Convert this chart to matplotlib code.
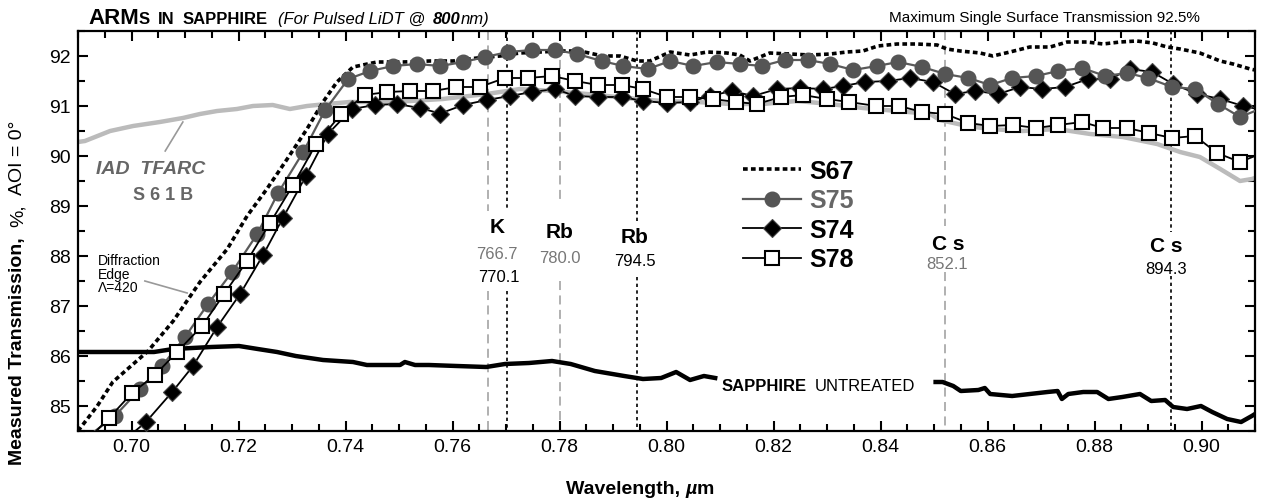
import numpy as np
import matplotlib
matplotlib.use('Agg')
import matplotlib.pyplot as plt
from matplotlib import font_manager

# ---- data (wavelength in um, transmission in %) ----
s67_wl = [0.6900, 0.6936, 0.6965, 0.7031, 0.7078, 0.7128, 0.7179, 0.7216, 0.7253, 0.7291,
          0.7328, 0.7358, 0.7384, 0.7414, 0.7459, 0.7507, 0.7558, 0.7601, 0.7646, 0.7689,
          0.7726, 0.7764, 0.7801, 0.7838, 0.7881, 0.7913, 0.7945, 0.7969, 0.8007, 0.8044,
          0.8076, 0.8113, 0.8137, 0.8156, 0.8193, 0.8231, 0.8268, 0.8306, 0.8337, 0.8367,
          0.8395, 0.8431, 0.8468, 0.8506, 0.8524, 0.8549, 0.8586, 0.8610, 0.8642, 0.8679,
          0.8717, 0.8749, 0.8786, 0.8816, 0.8848, 0.8879, 0.8909, 0.8936, 0.8960, 0.8997,
          0.9035, 0.9059, 0.9091, 0.9100]
s67_t = [84.50, 85.00, 85.48, 86.10, 86.70, 87.48, 88.14, 88.80, 89.34, 89.94,
         90.54, 91.08, 91.48, 91.78, 91.88, 91.88, 91.90, 91.90, 91.96, 92.00,
         92.06, 92.08, 92.10, 92.10, 92.00, 92.00, 91.90, 91.90, 92.08, 92.02,
         92.08, 92.06, 92.02, 91.90, 92.06, 92.04, 92.02, 92.04, 92.08, 92.10,
         92.20, 92.24, 92.24, 92.22, 92.14, 92.10, 92.06, 92.00, 92.08, 92.18,
         92.18, 92.28, 92.28, 92.24, 92.28, 92.30, 92.26, 92.18, 92.14, 92.06,
         91.90, 91.84, 91.74, 91.72]

s75_wl = [0.6932, 0.6969, 0.7016, 0.7057, 0.7100, 0.7143, 0.7188, 0.7235, 0.7274, 0.7321,
          0.7362, 0.7405, 0.7446, 0.7489, 0.7534, 0.7577, 0.7620, 0.7661, 0.7704, 0.7749,
          0.7792, 0.7833, 0.7879, 0.7919, 0.7965, 0.8007, 0.8050, 0.8094, 0.8137, 0.8179,
          0.8221, 0.8264, 0.8306, 0.8349, 0.8393, 0.8433, 0.8478, 0.8521, 0.8564, 0.8605,
          0.8646, 0.8691, 0.8732, 0.8777, 0.8820, 0.8861, 0.8900, 0.8945, 0.8988, 0.9031,
          0.9072, 0.9100]
s75_t = [84.50, 84.80, 85.34, 85.80, 86.38, 87.04, 87.68, 88.44, 89.26, 90.08,
         90.92, 91.54, 91.70, 91.80, 91.84, 91.80, 91.88, 91.98, 92.08, 92.12,
         92.12, 92.04, 91.90, 91.80, 91.74, 91.90, 91.80, 91.88, 91.84, 91.80,
         91.92, 91.92, 91.84, 91.72, 91.80, 91.88, 91.78, 91.64, 91.56, 91.42,
         91.56, 91.60, 91.70, 91.76, 91.60, 91.66, 91.56, 91.38, 91.34, 91.04,
         90.78, 90.90]

s74_wl = [0.7007, 0.7027, 0.7076, 0.7115, 0.7160, 0.7203, 0.7246, 0.7283, 0.7326, 0.7367,
          0.7412, 0.7455, 0.7496, 0.7539, 0.7577, 0.7620, 0.7664, 0.7707, 0.7749, 0.7792,
          0.7829, 0.7872, 0.7917, 0.7956, 0.8001, 0.8044, 0.8081, 0.8122, 0.8162, 0.8207,
          0.8250, 0.8293, 0.8330, 0.8371, 0.8414, 0.8455, 0.8498, 0.8539, 0.8577, 0.8620,
          0.8661, 0.8702, 0.8745, 0.8788, 0.8829, 0.8866, 0.8908, 0.8947, 0.8992, 0.9035,
          0.9078, 0.9100]
s74_t = [84.50, 84.68, 85.28, 85.80, 86.58, 87.24, 88.02, 88.76, 89.60, 90.44,
         90.94, 91.02, 91.04, 90.96, 90.85, 91.02, 91.12, 91.20, 91.28, 91.34,
         91.20, 91.18, 91.18, 91.10, 91.06, 91.08, 91.20, 91.30, 91.20, 91.34,
         91.36, 91.34, 91.40, 91.48, 91.50, 91.56, 91.48, 91.24, 91.30, 91.24,
         91.38, 91.34, 91.38, 91.54, 91.54, 91.74, 91.68, 91.44, 91.24, 91.14,
         91.00, 90.95]

s78_wl = [0.6934, 0.6958, 0.7001, 0.7044, 0.7085, 0.7132, 0.7173, 0.7216, 0.7259, 0.7302,
          0.7345, 0.7392, 0.7436, 0.7478, 0.7521, 0.7564, 0.7607, 0.7651, 0.7698, 0.7741,
          0.7786, 0.7829, 0.7872, 0.7917, 0.7956, 0.8001, 0.8044, 0.8087, 0.8130, 0.8169,
          0.8214, 0.8255, 0.8300, 0.8341, 0.8392, 0.8435, 0.8478, 0.8521, 0.8564, 0.8605,
          0.8648, 0.8691, 0.8732, 0.8777, 0.8816, 0.8861, 0.8902, 0.8945, 0.8988, 0.9029,
          0.9072, 0.9100]
s78_t = [84.50, 84.76, 85.26, 85.62, 86.08, 86.60, 87.24, 87.90, 88.66, 89.42,
         90.24, 90.84, 91.22, 91.28, 91.30, 91.30, 91.38, 91.38, 91.56, 91.56,
         91.60, 91.50, 91.42, 91.42, 91.34, 91.18, 91.18, 91.14, 91.08, 91.04,
         91.18, 91.22, 91.14, 91.08, 91.00, 91.00, 90.88, 90.84, 90.66, 90.60,
         90.62, 90.56, 90.62, 90.68, 90.56, 90.56, 90.46, 90.36, 90.40, 90.06,
         89.88, 90.00]

s61b_wl = [0.6900, 0.6913, 0.6960, 0.7003, 0.7053, 0.7096, 0.7128, 0.7160, 0.7197, 0.7227,
           0.7264, 0.7296, 0.7328, 0.7365, 0.7408, 0.7459, 0.7521, 0.7582, 0.7614, 0.7664,
           0.7726, 0.7788, 0.7851, 0.7945, 0.7993, 0.8057, 0.8119, 0.8180, 0.8244, 0.8306,
           0.8367, 0.8431, 0.8493, 0.8511, 0.8562, 0.8605, 0.8666, 0.8730, 0.8792, 0.8853,
           0.8917, 0.8960, 0.8997, 0.9035, 0.9072, 0.9094, 0.9100]
s61b_t = [90.28, 90.30, 90.50, 90.60, 90.68, 90.76, 90.84, 90.90, 90.94, 91.00,
          91.02, 90.94, 91.00, 91.04, 91.08, 91.08, 91.10, 91.14, 91.18, 91.24,
          91.34, 91.30, 91.24, 91.14, 91.10, 91.08, 91.04, 91.04, 91.10, 91.04,
          90.96, 90.90, 90.84, 90.72, 90.60, 90.54, 90.50, 90.54, 90.44, 90.38,
          90.24, 90.08, 89.98, 89.74, 89.50, 89.54, 89.56]

# untreated sapphire, NaN marks the break behind the label
sap_wl = [0.6900, 0.6988, 0.7042, 0.7078, 0.7149, 0.7201, 0.7236, 0.7272, 0.7307, 0.7358,
          0.7414, 0.7440, 0.7502, 0.7511, 0.7530, 0.7556, 0.7608, 0.7663, 0.7698, 0.7743,
          0.7786, 0.7821, 0.7866, 0.7921, 0.7956, 0.7990, 0.8018, 0.8044, 0.8070, 0.8091,
          0.8300,
          0.8503, 0.8516, 0.8536, 0.8550, 0.8583, 0.8595, 0.8605, 0.8646, 0.8679, 0.8712,
          0.8731, 0.8739, 0.8751, 0.8779, 0.8805, 0.8826, 0.8852, 0.8885, 0.8906, 0.8932,
          0.8947, 0.8973, 0.8999, 0.9020, 0.9048, 0.9074, 0.9094, 0.9100]
sap_t = [86.08, 86.08, 86.08, 86.14, 86.18, 86.20, 86.14, 86.08, 86.00, 85.92,
         85.88, 85.82, 85.82, 85.88, 85.82, 85.82, 85.80, 85.78, 85.84, 85.86,
         85.90, 85.84, 85.70, 85.60, 85.54, 85.56, 85.68, 85.52, 85.60, 85.56,
         np.nan,
         85.48, 85.48, 85.40, 85.30, 85.32, 85.36, 85.24, 85.20, 85.24, 85.28,
         85.30, 85.14, 85.24, 85.28, 85.28, 85.14, 85.18, 85.24, 85.10, 85.12,
         84.98, 84.94, 85.00, 84.88, 84.74, 84.68, 84.80, 84.84]

# atomic lines, nm
line_nm = [766.7, 770.1, 780.0, 794.5, 852.1, 894.3]
line_gray = [True, False, True, False, True, False]

# ---- fonts ----
names = {f.name for f in font_manager.fontManager.ttflist}
narrow = 'Liberation Sans Narrow' if 'Liberation Sans Narrow' in names else 'Liberation Sans'
plt.rcParams['font.family'] = [narrow, 'DejaVu Sans']

fig = plt.figure(figsize=(12.61, 5.02), dpi=100)
ax = fig.add_axes([78 / 1261, 70 / 502, 1177 / 1261, 400 / 502])
ax.set_xlim(0.69, 0.91)
ax.set_ylim(84.5, 92.5)

# vertical lines with a gap for the labels (gap in % units)
gaps = [(87.3, 88.9), (87.3, 88.9), (87.5, 89.04), (87.58, 88.64), (87.68, 88.6), (87.6, 88.48)]
for nm, g, (lo, hi) in zip(line_nm, line_gray, gaps):
    x = nm / 1000.0
    if g:
        kw = dict(color='#aaaaaa', lw=1.3, dashes=(5, 3))
    else:
        kw = dict(color='black', lw=1.2, dashes=(2, 2))
    ax.plot([x, x], [92.5, hi], zorder=1, **kw)
    ax.plot([x, x], [lo, 84.5], zorder=1, **kw)

ax.plot(s61b_wl, s61b_t, color='#bbbbbb', lw=3.2, zorder=2)
ax.plot(sap_wl, sap_t, color='black', lw=3.2, zorder=2)
l67, = ax.plot(s67_wl, s67_t, color='black', lw=2.6, dashes=(1.3, 0.9), zorder=3, label='S67')
l74, = ax.plot(s74_wl, s74_t, color='black', lw=1.3, marker='D', ms=9, mfc='black',
               mec='#444444', mew=0.8, markevery=slice(1, -1), zorder=4, label='S74')
l75, = ax.plot(s75_wl, s75_t, color='#5a5a5a', lw=1.6, marker='o', ms=10.5, mfc='#555555',
               mec='#555555', markevery=slice(1, -1), zorder=5, label='S75')
l78, = ax.plot(s78_wl, s78_t, color='black', lw=1.3, marker='s', ms=10, mfc='white',
               mec='black', mew=1.5, markevery=slice(1, -1), zorder=6, label='S78')

leg = ax.legend([l67, l75, l74, l78], ['S67', 'S75', 'S74', 'S78'], loc='upper left',
                bbox_to_anchor=(0.565, 0.68), frameon=False, borderpad=0, borderaxespad=0,
                handlelength=2.3, handletextpad=0.35, labelspacing=0.22,
                prop=dict(family=narrow, weight='bold', size=18))
for t, c in zip(leg.get_texts(), ['black', '#666666', 'black', 'black']):
    t.set_color(c)

# ticks
ax.set_xticks(np.arange(0.70, 0.9001, 0.02))
ax.set_xticks(np.arange(0.69, 0.9101, 0.005), minor=True)
ax.set_yticks(np.arange(85, 92.01, 1))
ax.set_yticks(np.arange(84.5, 92.51, 0.5), minor=True)
ax.xaxis.set_major_formatter(matplotlib.ticker.FormatStrFormatter('%.2f'))
ax.yaxis.set_major_formatter(matplotlib.ticker.FormatStrFormatter('%d'))
ax.tick_params(which='both', direction='in', top=True, right=True, width=1.5, labelsize=14)
ax.tick_params(which='major', length=7, pad=5)
ax.tick_params(which='minor', length=5)
for s in ax.spines.values():
    s.set_linewidth(1.6)

# line labels
lab = dict(ha='center', va='center')
ax.text(0.7683, 88.58, 'K', fontsize=15, fontweight='bold', **lab)
ax.text(0.7683, 88.04, '766.7', fontsize=12, color='#777777', **lab)
ax.text(0.7686, 87.58, '770.1', fontsize=12, **lab)
ax.text(0.7801, 88.48, 'Rb', fontsize=15, fontweight='bold', **lab)
ax.text(0.7801, 87.96, '780.0', fontsize=12, color='#777777', **lab)
ax.text(0.7941, 88.38, 'Rb', fontsize=15, fontweight='bold', **lab)
ax.text(0.7941, 87.90, '794.5', fontsize=12, **lab)
ax.text(0.8526, 88.24, 'C s', fontsize=15, fontweight='bold', **lab)
ax.text(0.8524, 87.84, '852.1', fontsize=12, color='#777777', **lab)
ax.text(0.8934, 88.20, 'C s', fontsize=15, fontweight='bold', **lab)
ax.text(0.8934, 87.74, '894.3', fontsize=12, **lab)

# other annotations
ax.text(0.7035, 89.75, 'IAD  TFARC', fontsize=14, fontweight='bold', style='italic',
        color='#666666', ha='center', va='center')
ax.text(0.7059, 89.23, 'S 6 1 B', fontsize=13, fontweight='bold', color='#666666',
        ha='center', va='center')
ax.plot([0.7063, 0.7096], [90.10, 90.68], color='#999999', lw=1.2)
ax.text(0.6938, 88.05, 'Diffraction\nEdge\n\u039b=420', fontsize=10, ha='left', va='top',
        linespacing=0.95)
ax.plot([0.7025, 0.7104], [87.50, 87.26], color='#999999', lw=1.2)

renderer = fig.canvas.get_renderer()
inv = fig.transFigure.inverted()


def put_row(x, y, parts, rot=0):
    for s, gap, kw in parts:
        if rot:
            t = fig.text(x, y, s, rotation=90, ha='center', va='bottom', **kw)
        else:
            t = fig.text(x, y, s, ha='left', va='baseline', **kw)
        bb = t.get_window_extent(renderer).transformed(inv)
        if rot:
            y = bb.y1 + gap / 502
        else:
            x = bb.x1 + gap / 1261


put_row(722 / 1261, (502 - 391) / 502,
        [('SAPPHIRE', 8, dict(fontsize=12, fontweight='bold')),
         ('UNTREATED', 0, dict(fontsize=12))])

put_row(88 / 1261, (502 - 24) / 502,
        [('ARM', 0, dict(fontsize=16, fontweight='bold')),
         ('S', 8, dict(fontsize=12, fontweight='bold')),
         ('IN', 8, dict(fontsize=12, fontweight='bold')),
         ('SAPPHIRE', 10, dict(fontsize=12, fontweight='bold')),
         ('(For Pulsed LiDT @ ', 3, dict(fontsize=12, style='italic')),
         ('800', 0, dict(fontsize=12, style='italic', fontweight='bold')),
         ('nm)', 0, dict(fontsize=12, style='italic'))])

fig.text(1200 / 1261, (502 - 22) / 502, 'Maximum Single Surface Transmission 92.5%',
         fontsize=11, ha='right', va='baseline')

put_row(18 / 1261, 37 / 502,
        [('Measured Transmission,', 10, dict(fontsize=14, fontweight='bold')),
         ('%,', 10, dict(fontsize=14)),
         ('AOI = 0\u00b0', 0, dict(fontsize=14))], rot=90)

put_row(566 / 1261, (502 - 494) / 502,
        [('Wavelength, ', 0, dict(fontsize=14, fontweight='bold')),
         ('\u00b5', 0, dict(fontsize=14, fontweight='bold', style='italic')),
         ('m', 0, dict(fontsize=14, fontweight='bold'))])

fig.savefig('out.png', dpi=100)
